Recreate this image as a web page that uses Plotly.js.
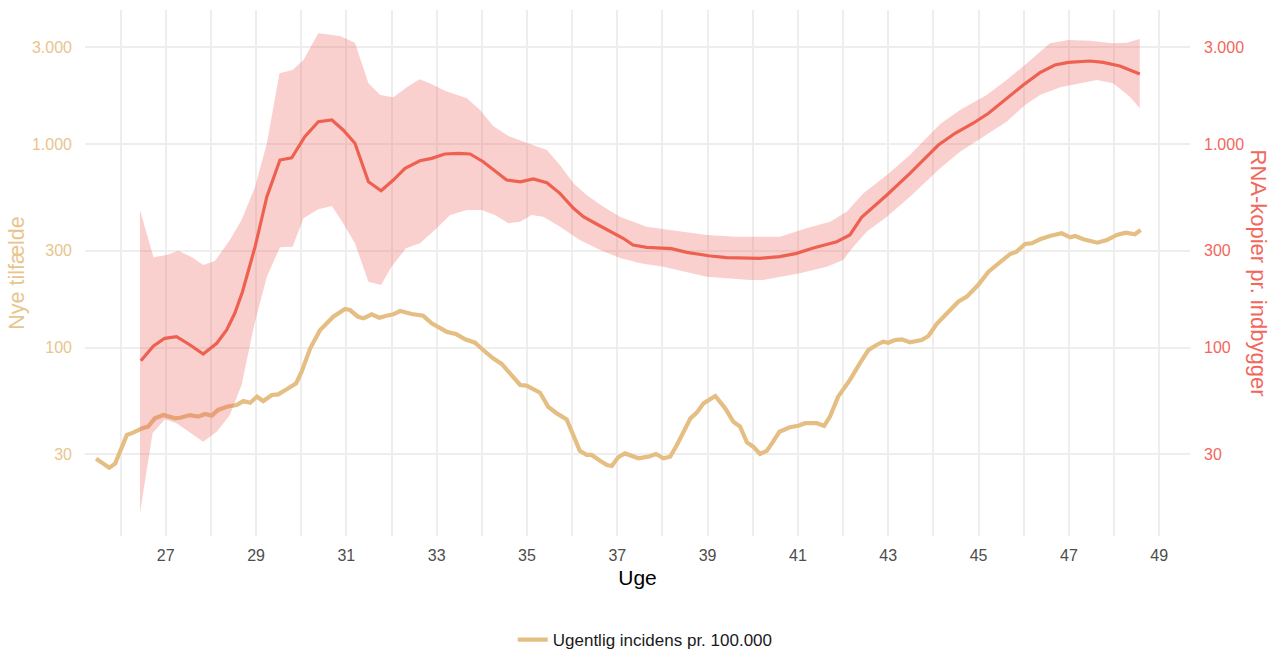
<!DOCTYPE html>
<html><head><meta charset="utf-8">
<script src="https://cdn.plot.ly/plotly-3.0.1.min.js"></script>
<style>html,body{margin:0;padding:0;background:#fff}#chart{width:1274px;height:651px}</style>
</head><body><div id="chart"></div>
<script>
// Weekly incidence per 100.000 (left axis)
const incWeek = [25.46,25.75,25.88,26.14,26.28,26.47,26.61,26.76,26.95,27.04,
27.21,27.32,27.54,27.72,27.87,28.02,28.16,28.35,28.57,28.72,
28.87,29.02,29.16,29.35,29.49,29.68,29.89,30.01,30.20,30.42,
30.71,30.97,31.08,31.26,31.38,31.56,31.73,31.89,32.04,32.19,
32.45,32.70,32.89,33.22,33.44,33.63,33.85,34.03,34.25,34.44,
34.66,34.85,34.99,35.29,35.47,35.66,35.88,36.03,36.17,36.32,
36.43,36.62,36.77,36.88,37.02,37.17,37.28,37.47,37.69,37.86,
38.02,38.17,38.32,38.51,38.62,38.76,38.91,39.17,39.39,39.57,
39.72,39.87,40.01,40.16,40.31,40.45,40.59,40.82,41.01,41.16,
41.42,41.58,41.71,41.89,42.15,42.37,42.56,42.74,42.89,43.00,
43.15,43.30,43.48,43.74,43.89,44.07,44.29,44.55,44.74,44.99,
45.22,45.44,45.70,45.84,46.03,46.18,46.36,46.58,46.84,47.03,
47.14,47.32,47.47,47.63,47.84,48.06,48.26,48.46,48.59];
const incValue = [28.4,25.7,26.9,37.2,38.2,40.1,40.9,44.9,46.6,46.1,
44.9,45.2,46.6,45.8,47.2,46.3,49.4,51.2,52.2,54.6,
53.6,57.4,54.6,58.5,58.9,62.4,66.8,76.1,99.2,122,
141.8,154.7,153,141.8,139.3,145.7,140.3,143.4,145.7,151.3,
146.3,143.4,131.6,119.7,116.2,109.8,105.7,97.3,88.6,83.1,
72.8,65.5,65.0,60.0,51.2,47.5,44.4,36.5,31.1,29.7,
29.7,27.8,26.5,26.2,28.9,30.2,29.7,28.6,29.1,30,
28.6,29.1,33.2,40.9,44.9,47.9,53.2,57.8,50.3,43.2,
40.9,34.2,32.6,30,31.1,34.5,38.6,40.6,41.3,42.5,
42.5,41.2,45.8,57.4,69.3,83.7,97.3,103,106.9,105.7,
109,109.8,106.2,109,114,130.6,147.4,168.1,177.9,203,
236,259.6,288.4,296,322.8,325.4,340.5,353.5,364.4,348.3,
353.5,340.5,335.2,327.7,337.8,357.5,366.9,360.3,378.2];

// RNA copies per inhabitant (right axis)
const rnaWeek = [26.45,26.73,26.98,27.24,27.54,27.83,28.13,28.35,28.53,28.70,
28.98,29.24,29.53,29.79,30.08,30.38,30.68,30.93,31.19,31.49,
31.77,32.04,32.30,32.63,32.89,33.18,33.48,33.74,34.03,34.29,
34.55,34.85,35.14,35.44,35.73,36.03,36.25,36.54,36.84,37.13,
37.35,37.65,38.20,38.54,39.02,39.42,40.16,40.60,40.97,41.34,
41.86,42.15,42.41,42.97,43.48,44.11,44.48,44.88,45.22,45.62,
45.99,46.36,46.69,46.99,47.47,47.76,48.13,48.57];
const rnaValue = [86.2,101.8,111.1,113.1,103,93.0,105,122,147.4,188.2,
313.2,551.3,835,857,1087,1289,1313,1173,1009,653,
590,666,760,828.5,851,894,901,894,819,740,
666,653,674,646,573,483.5,439.7,404.9,371.2,344.5,
319.2,311,306.2,293.9,282.8,276.5,274.7,279.7,290.5,308.8,
331.4,357.5,436.7,562,718.5,989.7,1130,1266,1417,1679,
1952,2243,2446,2522,2560,2522,2419,2210];

const upperWeek = [26.43,26.73,27.02,27.28,27.58,27.83,28.09,28.42,28.68,28.98,
29.24,29.52,29.81,30.05,30.38,30.86,31.19,31.49,31.75,32.04,
32.34,32.62,32.85,33.18,33.67,33.96,34.25,34.59,34.99,35.44,
35.73,36.03,36.32,36.69,37.06,37.65,38.17,38.98,39.64,40.16,
40.60,41.19,41.71,42.08,42.45,42.97,43.48,44.15,44.59,45.18,
45.62,46.07,46.58,46.99,47.47,47.98,48.28,48.57];
const upperValue = [474,277.8,285.1,299.4,277.8,254.6,266.4,337.8,423.6,617.6,
1009,2228,2313,2589,3503,3397,3149,1990,1743,1698,
1902,2081,1990,1830,1679,1471,1227,1096,1016,935,
789,642,562,492.4,439.7,392.8,378.2,357.5,350.7,350.7,
350.7,385.6,415.5,465.4,573,704.8,884,1255,1471,1743,
2065,2495,3128,3247,3222,3128,3149,3284];

const lowerWeek = [26.43,26.71,26.98,27.24,27.83,28.13,28.42,28.68,28.96,29.24,
29.53,29.81,30.05,30.38,30.68,30.93,31.19,31.49,31.77,32.00,
32.32,32.63,32.96,33.30,33.67,34.00,34.29,34.59,34.85,35.10,
35.36,35.73,36.17,36.62,37.06,37.51,38.02,38.98,39.94,40.23,
41.04,41.64,42.00,42.23,42.52,42.97,43.48,44.15,44.59,45.10,
45.62,46.03,46.36,46.81,47.25,47.62,47.98,48.35,48.57];
const lowerValue = [15.4,37.9,44.4,42.5,34.5,38.6,46.6,65.5,129.1,223,
311,313.2,431.8,478,496.3,408.1,325.4,210.8,203,249.7,
307.5,325.4,378.2,448,474,474,448,408.1,415.5,448,
439.7,392.8,337.8,301.7,275.6,259.6,249.7,223,214.8,214.8,
231.8,249.7,269.4,313.2,371.2,439.7,551.3,760,917.6,1087,
1289,1556,1743,1902,1990,2065,1990,1710,1499];

// x grid at every week, labels on odd weeks only
const xTickVals = [26,27,28,29,30,31,32,33,34,35,36,37,38,39,40,41,42,43,44,45,46,47,48,49];
const xTickText = ['','27','','29','','31','','33','','35','','37','','39','','41','','43','','45','','47','','49'];
const yTickVals = [30,100,300,1000,3000];
const yTickText = ['30','100','300','1.000','3.000'];

const TAN = '#E4BE82', TAN_TXT = '#E9C48E', RED = '#EE6150', RED_TXT = '#F2675C';
const FONT = 'Liberation Sans, Arial, sans-serif';
const yRange = [1.0742, 3.6589];

const traces = [
  {x: incWeek, y: incValue, type: 'scatter', mode: 'lines', name: 'Ugentlig incidens pr. 100.000',
   line: {color: TAN, width: 4.2}, yaxis: 'y', hoverinfo: 'skip'},
  {x: upperWeek.concat(lowerWeek.slice().reverse()), y: upperValue.concat(lowerValue.slice().reverse()),
   type: 'scatter', mode: 'lines', fill: 'toself', fillcolor: 'rgba(240,100,95,0.3)',
   line: {width: 0, color: 'rgba(0,0,0,0)'}, yaxis: 'y2', showlegend: false, hoverinfo: 'skip'},
  {x: rnaWeek, y: rnaValue, type: 'scatter', mode: 'lines', line: {color: RED, width: 3.2},
   yaxis: 'y2', showlegend: false, hoverinfo: 'skip'}
];

const layout = {
  width: 1274, height: 651,
  margin: {l: 85, r: 84, t: 10, b: 115, autoexpand: false},
  paper_bgcolor: '#fff', plot_bgcolor: '#fff',
  font: {family: FONT},
  showlegend: true,
  xaxis: {
    range: [25.213, 49.682], tickvals: xTickVals, ticktext: xTickText,
    tickfont: {size: 16, color: '#4D4D4D'}, ticks: '', showline: false, zeroline: false,
    gridcolor: '#EEEEEE', gridwidth: 2, ticklabelstandoff: 8,
    title: {text: 'Uge', font: {size: 21, color: '#000'}, standoff: 7}
  },
  yaxis: {
    type: 'log', range: yRange, tickvals: yTickVals, ticktext: yTickText,
    tickfont: {size: 16, color: TAN_TXT}, ticks: '', showline: false, zeroline: false,
    gridcolor: '#EEEEEE', gridwidth: 2, ticklabelstandoff: 12,
    title: {text: 'Nye tilfælde', font: {size: 21.5, color: TAN_TXT}, standoff: 1}
  },
  yaxis2: {
    type: 'log', range: yRange, overlaying: 'y', side: 'right', tickvals: yTickVals, ticktext: yTickText,
    tickfont: {size: 16, color: RED_TXT}, ticks: '', showline: false, zeroline: false, showgrid: false,
    ticklabelstandoff: 13
  },
  legend: {orientation: 'h', x: 0.507, xanchor: 'center', y: -0.1977, yanchor: 'middle',
    font: {size: 17, color: '#1A1A1A'}, bgcolor: 'rgba(0,0,0,0)'},
  annotations: [{
    text: 'RNA-kopier pr. indbygger', xref: 'paper', yref: 'paper', x: 1.062, y: 0.5,
    xanchor: 'center', yanchor: 'middle', textangle: 90, showarrow: false,
    font: {size: 22, color: RED_TXT}
  }]
};

Plotly.newPlot('chart', traces, layout, {displayModeBar: false});
</script>
</body></html>
